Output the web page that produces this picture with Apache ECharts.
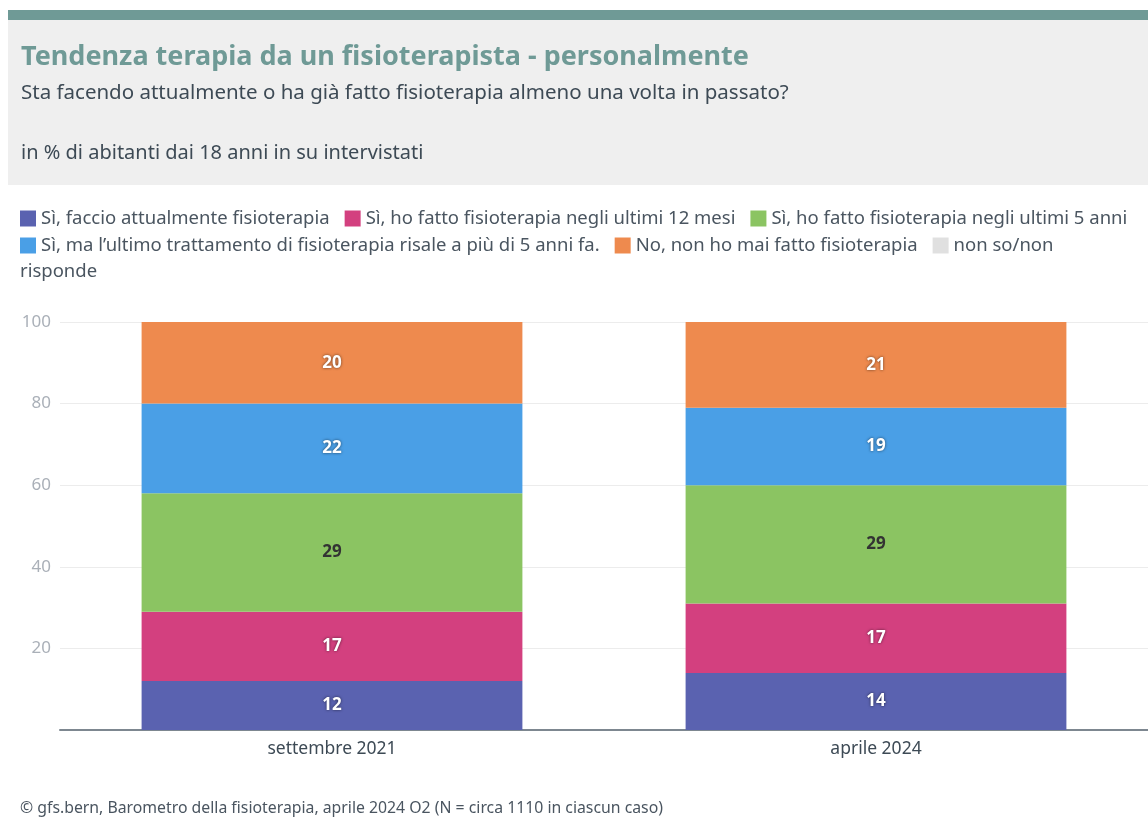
<!DOCTYPE html>
<html>
<head>
<meta charset="utf-8">
<script src="https://cdn.jsdelivr.net/npm/echarts@6/dist/echarts.min.js"></script>
<style>
  html, body { margin: 0; padding: 0; background: #fff; }
  #chart { width: 1148px; height: 827px; }
</style>
</head>
<body>
<div id="chart"></div>
<script>
// dati
var categories = ['settembre 2021', 'aprile 2024'];
var seriesNames = [
  'Sì, faccio attualmente fisioterapia',
  'Sì, ho fatto fisioterapia negli ultimi 12 mesi',
  'Sì, ho fatto fisioterapia negli ultimi 5 anni',
  'Sì, ma l\u2019ultimo trattamento di fisioterapia risale a più di 5 anni fa.',
  'No, non ho mai fatto fisioterapia',
  'non so/non risponde'
];
var attuale = [12, 14];
var ultimi12 = [17, 17];
var ultimi5 = [29, 29];
var oltre5 = [22, 19];
var mai = [20, 21];
var nonSo = [0, 0];
var yTicks = [0, 20, 40, 60, 80, 100];

var colors = ['#5a62b0', '#d3407f', '#8bc462', '#4a9fe6', '#ee8a4e', '#e0e0e0'];
var values = [attuale, ultimi12, ultimi5, oltre5, mai, nonSo];
var font = '"Noto Sans", sans-serif';

var myChart = echarts.init(document.getElementById('chart'));

var series = values.map(function (v, i) {
  var dark = i === 2;
  return {
    name: seriesNames[i],
    type: 'bar',
    stack: 'tot',
    barWidth: '70%',
    itemStyle: { color: colors[i] },
    label: {
      show: true,
      fontFamily: font,
      fontSize: 17,
      fontWeight: 'bold',
      color: dark ? '#333333' : '#ffffff',
      textShadowColor: dark ? 'transparent' : 'rgba(0,0,0,0.6)',
      textShadowBlur: dark ? 0 : 3,
      formatter: function (p) { return p.value > 0 ? p.value : ''; }
    },
    data: v
  };
});

var legendText = { fontFamily: font, fontSize: 18.5, color: '#4a5560' };

myChart.setOption({
  animation: false,
  color: colors,
  textStyle: { fontFamily: font },
  graphic: [
    { type: 'rect', shape: { x: 8, y: 10, width: 1140, height: 10 }, style: { fill: '#6f9a96' } },
    { type: 'rect', shape: { x: 8, y: 20, width: 1140, height: 165 }, style: { fill: '#efefef' } },
    { type: 'text', left: 20, top: 262, style: { text: 'risponde', font: '18.5px ' + font, fill: '#4a5560' } }
  ],
  title: [
    {
      text: 'Tendenza terapia da un fisioterapista - personalmente',
      left: 16, top: 39,
      textStyle: { fontFamily: font, fontSize: 27, fontWeight: 'bold', color: '#6f9a96' }
    },
    {
      text: 'Sta facendo attualmente o ha già fatto fisioterapia almeno una volta in passato?',
      left: 16, top: 78,
      textStyle: { fontFamily: font, fontSize: 20.5, fontWeight: 'normal', color: '#3d4a55' }
    },
    {
      text: 'in % di abitanti dai 18 anni in su intervistati',
      left: 16, top: 138,
      textStyle: { fontFamily: font, fontSize: 20, fontWeight: 'normal', color: '#3d4a55' }
    },
    {
      text: '© gfs.bern, Barometro della fisioterapia, aprile 2024 O2 (N = circa 1110 in ciascun caso)',
      left: 15, top: 795,
      textStyle: { fontFamily: font, fontSize: 15.8, fontWeight: 'normal', color: '#4a5560' }
    }
  ],
  legend: [
    {
      data: seriesNames.slice(0, 3),
      left: 15, top: 204,
      itemWidth: 16, itemHeight: 16, itemGap: 15,
      icon: 'rect',
      textStyle: legendText
    },
    {
      data: seriesNames.slice(3),
      left: 15, top: 231,
      itemWidth: 16, itemHeight: 16, itemGap: 15,
      icon: 'rect',
      textStyle: legendText,
      formatter: function (name) {
        return name === 'non so/non risponde' ? 'non so/non' : name;
      }
    }
  ],
  grid: { left: 60, right: 0, top: 322, bottom: 97, containLabel: false },
  xAxis: {
    type: 'category',
    data: categories,
    axisTick: { show: false },
    axisLine: { lineStyle: { color: '#7d8790', width: 2 } },
    axisLabel: { fontFamily: font, fontSize: 17.5, color: '#3d4a55', margin: 10 }
  },
  yAxis: {
    type: 'value',
    min: yTicks[0],
    max: yTicks[yTicks.length - 1],
    interval: 20,
    axisLine: { show: false },
    axisTick: { show: false },
    splitLine: { lineStyle: { color: '#ececec' } },
    axisLabel: {
      fontFamily: font, fontSize: 17, color: '#aab0b8', margin: 9,
      formatter: function (v) { return v === 0 ? '' : v; }
    }
  },
  series: series
});
</script>
</body>
</html>
